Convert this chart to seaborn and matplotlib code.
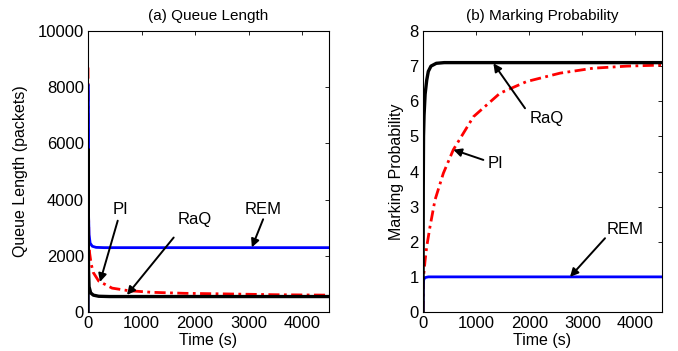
import matplotlib
matplotlib.use("Agg")
import matplotlib.pyplot as plt
import seaborn as sns
import pandas as pd

# ---- data ----
# (a) Queue length
qa_rem_t = [0, 0, 10, 20, 40, 80, 150, 300, 4500]
qa_rem_v = [0, 8100, 3500, 2750, 2450, 2340, 2300, 2290, 2290]
qa_pi_t = [0, 5, 15, 30, 60, 100, 200, 450, 750, 1200, 1800, 2700, 3500, 4500]
qa_pi_v = [8700, 5000, 2600, 2100, 1700, 1400, 1100, 850, 760, 700, 665, 640, 615, 600]
qa_raq_t = [0, 0, 5, 10, 20, 50, 100, 200, 400, 4500]
qa_raq_v = [0, 5800, 2500, 1500, 900, 680, 600, 560, 550, 550]

# (b) Marking probability
pb_rem_t = [0, 5, 15, 40, 100, 4500]
pb_rem_v = [0, 0.8, 0.93, 0.98, 1.0, 1.0]
pb_pi_t = [0, 10, 38, 70, 132, 226, 383, 571, 950, 1450, 1950, 2580, 3200, 3840, 4500]
pb_pi_v = [0, 1.0, 1.45, 1.86, 2.43, 3.19, 3.95, 4.62, 5.56, 6.23, 6.56, 6.80, 6.94, 7.0, 7.03]
pb_raq_t = [0, 5, 10, 20, 40, 70, 100, 150, 250, 400, 4500]
pb_raq_v = [0, 3.5, 5.0, 5.6, 6.2, 6.6, 6.85, 7.0, 7.08, 7.1, 7.1]

x_ticks = [0, 1000, 2000, 3000, 4000]
qa_ticks = [0, 2000, 4000, 6000, 8000, 10000]
pb_ticks = [0, 1, 2, 3, 4, 5, 6, 7, 8]

sns.set_theme(style="white")
plt.rcParams['font.family'] = ['Liberation Sans', 'DejaVu Sans']
plt.rcParams['text.color'] = 'black'
plt.rcParams['axes.labelcolor'] = 'black'

fig = plt.figure(figsize=(6.78, 3.51), dpi=100)
axA = fig.add_axes([88/678, 39/351, 241/678, 281/351])
axB = fig.add_axes([423/678, 39/351, 239/678, 281/351])

DASHDOT = (0, (4, 1.6, 1, 1.6))

def draw(ax, t, v, color, lw, ls='-'):
    df = pd.DataFrame({'t': t, 'v': v})
    sns.lineplot(data=df, x='t', y='v', ax=ax, color=color, linewidth=lw,
                 estimator=None, sort=False, linestyle=ls)

# panel a
draw(axA, qa_pi_t, qa_pi_v, 'red', 2.0, DASHDOT)
draw(axA, qa_rem_t, qa_rem_v, 'blue', 2.0)
draw(axA, qa_raq_t, qa_raq_v, 'black', 2.4)
# panel b
draw(axB, pb_pi_t, pb_pi_v, 'red', 2.0, DASHDOT)
draw(axB, pb_rem_t, pb_rem_v, 'blue', 2.0)
draw(axB, pb_raq_t, pb_raq_v, 'black', 2.4)

def style(ax, yticks, ylim, ylabel, title, ylab_x):
    ax.set_xlim(0, 4500)
    ax.set_ylim(*ylim)
    ax.set_xticks(x_ticks)
    ax.set_yticks(yticks)
    ax.set_xlabel('Time (s)', fontsize=11.5, color='black')
    ax.set_ylabel(ylabel, fontsize=11.5, color='black')
    ax.xaxis.set_label_coords(0.5, -0.075)
    ax.yaxis.set_label_coords(ylab_x, 0.5)
    ax.set_title(title, fontsize=11, pad=8, color='black')
    ax.tick_params(direction='in', length=3, width=0.6, top=True, right=True,
                   labelsize=12, pad=3, colors='black')
    for s in ax.spines.values():
        s.set_color('black')
        s.set_linewidth(0.8)
        s.set_visible(True)

style(axA, qa_ticks, (0, 10000), 'Queue Length (packets)', '(a) Queue Length', -0.249)
style(axB, pb_ticks, (0, 8), 'Marking Probability', '(b) Marking Probability', -0.079)

arrow = dict(arrowstyle='-|>', color='black', lw=1.4, mutation_scale=12,
             shrinkA=0, shrinkB=0)

def note(ax, label, txy, start, tip):
    ax.text(txy[0], txy[1], label, fontsize=12, ha='center', va='center',
            color='black')
    ax.annotate('', xy=tip, xytext=start, arrowprops=arrow)

note(axA, 'PI', (600, 3640), (555, 3250), (224, 1070))
note(axA, 'RaQ', (2000, 3290), (1600, 2650), (728, 607))
note(axA, 'REM', (3270, 3640), (3270, 3300), (3060, 2300))

note(axB, 'RaQ', (2330, 5.52), (1921, 5.8), (1325, 7.08))
note(axB, 'PI', (1356, 4.24), (1136, 4.33), (571, 4.62))
note(axB, 'REM', (3804, 2.34), (3427, 2.1), (2768, 1.0))

fig.savefig('out.png', dpi=100)
